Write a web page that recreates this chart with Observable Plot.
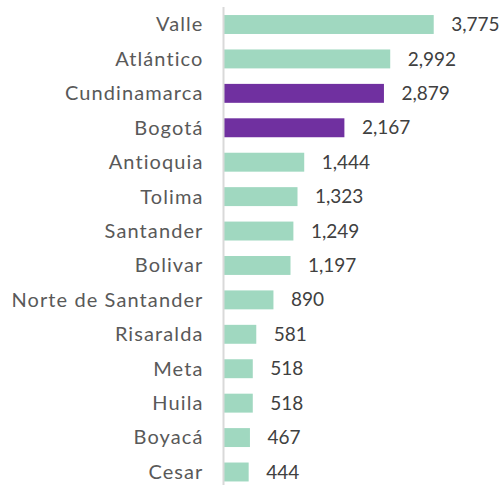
<!DOCTYPE html>
<html>
<head>
<meta charset="utf-8">
<script src="https://cdn.jsdelivr.net/npm/d3@7"></script>
<script src="https://cdn.jsdelivr.net/npm/@observablehq/plot@0.6"></script>
<style>
  html, body { margin: 0; padding: 0; background: #fff; }
  #chart { width: 502px; height: 485px; }
  .lbl text { letter-spacing: 1.1px; }
</style>
</head>
<body>
<div id="chart"></div>
<script>
const departments = ["Valle", "Atlántico", "Cundinamarca", "Bogotá", "Antioquia", "Tolima", "Santander", "Bolivar", "Norte de Santander", "Risaralda", "Meta", "Huila", "Boyacá", "Cesar"];
const values = [3775, 2992, 2879, 2167, 1444, 1323, 1249, 1197, 890, 581, 518, 518, 467, 444];
const highlighted = ["Cundinamarca", "Bogotá"];

const data = departments.map((d, i) => ({dept: d, value: values[i], hi: highlighted.includes(d)}));
const fmt = d3.format(",");
const font = "Lato, sans-serif";

const chart = Plot.plot({
  width: 502,
  height: 485,
  marginLeft: 224,
  marginRight: 28,
  marginTop: 7,
  marginBottom: 0,
  style: {fontFamily: font, background: "#fff"},
  x: {domain: [0, 4500], axis: null},
  y: {domain: departments, range: [7.3, 489.2], paddingInner: 0.45, paddingOuter: 0.225, round: false, axis: null},
  marks: [
    Plot.barX(data, {x: "value", y: "dept", fill: d => d.hi ? "#7030a0" : "#a0d8c0"}),
    Plot.ruleX([0], {stroke: "#d9d9d9", strokeWidth: 2, dx: -1}),
    Plot.text(data, {x: 0, y: "dept", text: "dept", textAnchor: "end", dx: -21, fill: "#595959", fontSize: 20, className: "lbl"}),
    Plot.text(data, {x: "value", y: "dept", text: d => fmt(d.value), textAnchor: "start", dx: 17, fill: "#404040", fontSize: 19})
  ]
});
document.getElementById("chart").appendChild(chart);
</script>
</body>
</html>
